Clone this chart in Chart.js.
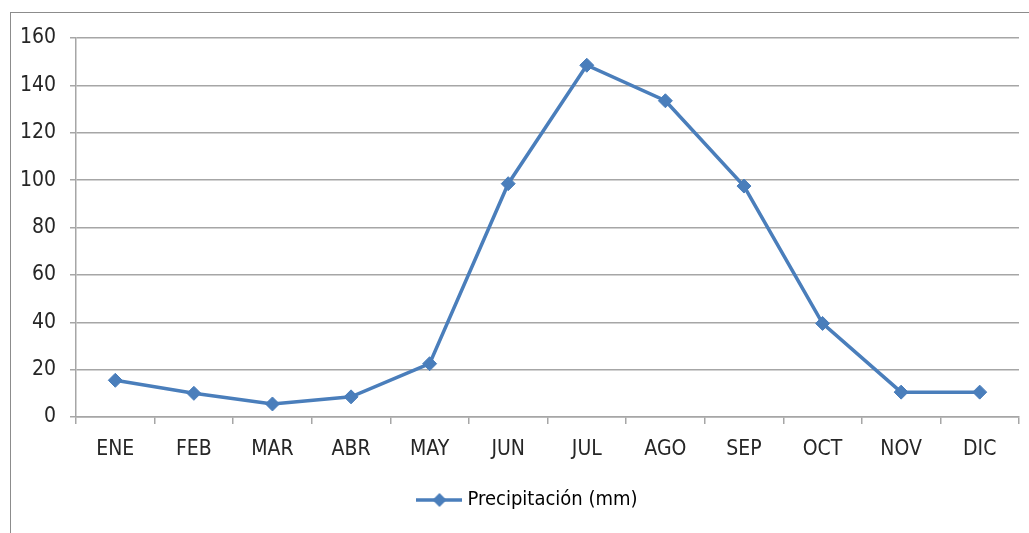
<!DOCTYPE html>
<html>
<head>
<meta charset="utf-8">
<script src="https://cdn.jsdelivr.net/npm/chart.js@4"></script>
<style>
  html, body { margin: 0; padding: 0; background: #fff; }
  #wrap { position: relative; width: 1029px; height: 533px; overflow: hidden; }
  #frame { position: absolute; left: 10px; top: 12px; width: 1030px; height: 540px;
           border-left: 1.5px solid #8c8c8c; border-top: 1.5px solid #8c8c8c; box-sizing: border-box; }
  canvas { position: absolute; left: 0; top: 0; }
</style>
</head>
<body>
<div id="wrap">
  <div id="frame"></div>
  <canvas id="c" width="1029" height="533"></canvas>
</div>
<script>
const months = ['ENE','FEB','MAR','ABR','MAY','JUN','JUL','AGO','SEP','OCT','NOV','DIC'];
const precipitacion = [15.5, 10, 5.5, 8.5, 22.5, 98.5, 148.5, 133.5, 97.5, 39.5, 10.5, 10.5];
const seriesName = 'Precipitación (mm)';
const yTicks = [0, 20, 40, 60, 80, 100, 120, 140, 160];

const FONT = "'Liberation Sans Narrow', 'DejaVu Sans Condensed', 'Liberation Sans', sans-serif";
const BLUE = '#4A7EBB';
const GRID = '#a6a6a6';

// legend symbol: line with diamond
const sym = document.createElement('canvas');
sym.width = 46; sym.height = 18;
(function(){
  const g = sym.getContext('2d');
  g.strokeStyle = BLUE; g.lineWidth = 3.5;
  g.beginPath(); g.moveTo(0, 9); g.lineTo(46, 9); g.stroke();
  g.fillStyle = BLUE;
  g.beginPath(); g.moveTo(23, 2); g.lineTo(30, 9); g.lineTo(23, 16); g.lineTo(16, 9); g.closePath(); g.fill();
})();

const shiftLegend = {
  id: 'shiftLegend',
  afterLayout(chart) {
    if (chart.legend) { chart.legend.left += 20; chart.legend.right += 20; }
  }
};

new Chart(document.getElementById('c'), {
  type: 'line',
  data: {
    labels: months,
    datasets: [{
      label: seriesName,
      data: precipitacion,
      borderColor: BLUE,
      backgroundColor: BLUE,
      borderWidth: 3.5,
      pointStyle: 'rectRot',
      pointRadius: 7,
      pointHoverRadius: 7,
      pointBackgroundColor: BLUE,
      pointBorderColor: BLUE,
      pointBorderWidth: 1,
      tension: 0
    }]
  },
  plugins: [shiftLegend],
  options: {
    responsive: false,
    animation: false,
    layout: { padding: { left: 0, right: 10, top: 38, bottom: 13 } },
    plugins: {
      tooltip: { enabled: false },
      legend: {
        position: 'bottom',
        labels: {
          usePointStyle: true,
          pointStyleWidth: 36,
          color: '#262626',
          font: { family: FONT, size: 20 },
          padding: 10,
          generateLabels: (chart) => [{
            text: seriesName,
            pointStyle: sym,
            fillStyle: BLUE,
            strokeStyle: BLUE,
            lineWidth: 0,
            hidden: false,
            datasetIndex: 0
          }]
        }
      }
    },
    scales: {
      x: {
        offset: true,
        grid: { display: true, drawOnChartArea: false, color: GRID, lineWidth: 1.5, tickLength: 7, offset: true },
        border: { color: GRID, width: 1.5 },
        ticks: { color: '#262626', font: { family: FONT, size: 21 }, padding: 13, maxRotation: 0, autoSkip: false },
        afterFit: (s) => { s.height = 63; }
      },
      y: {
        min: 0, max: 160,
        afterBuildTicks: (s) => { s.ticks = yTicks.map(v => ({ value: v })); },
        grid: { color: GRID, lineWidth: 1.5, tickLength: 6 },
        border: { color: GRID, width: 1.5 },
        ticks: { color: '#262626', font: { family: FONT, size: 21 }, padding: 14 },
        afterFit: (s) => { s.width = 76; }
      }
    }
  }
});
</script>
</body>
</html>
